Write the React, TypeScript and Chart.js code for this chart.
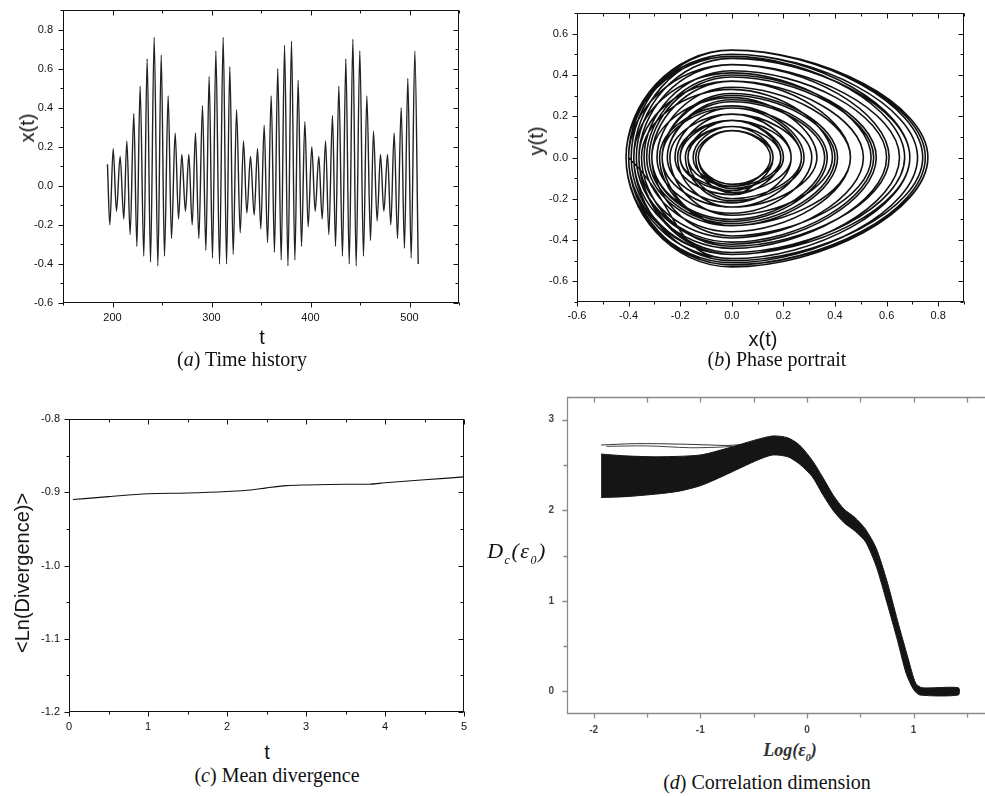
import React, { useEffect, useRef } from 'react';
import { Chart, registerables } from 'chart.js';
Chart.register(...registerables);

// ---------------- Panel (a): time history (extremes of x(t)) ----------------
const timeT = [
  194.9, 197.3, 200.7, 204.0, 207.7, 211.4, 214.5, 217.8, 221.5, 224.6,
  227.9, 231.6, 235.0, 238.4, 242.1, 245.8, 249.2, 252.5, 256.2, 259.6,
  263.3, 266.7, 270.0, 273.7, 277.1, 280.5, 283.8, 287.2, 290.9, 294.3,
  297.6, 301.0, 304.4, 308.1, 311.8, 315.2, 318.5, 321.9, 325.3, 329.0,
  332.3, 335.7, 339.4, 343.1, 346.5, 349.8, 353.2, 356.6, 360.3, 363.6,
  366.9, 370.4, 373.8, 377.2, 380.8, 384.2, 387.5, 390.9, 394.3, 397.6,
  401.3, 404.7, 408.4, 411.8, 415.2, 418.5, 422.2, 425.3, 428.6, 432.3,
  435.7, 439.1, 442.8, 446.1, 449.8, 453.5, 456.9, 460.6, 463.6, 467.3,
  470.7, 474.1, 477.8, 481.1, 484.5, 487.9, 491.6, 494.9, 498.3, 501.7,
  505.4, 508.8,
];
const timeX = [
  0.11, -0.20, 0.19, -0.13, 0.15, -0.17, 0.23, -0.25, 0.37, -0.31,
  0.51, -0.36, 0.65, -0.39, 0.76, -0.41, 0.67, -0.36, 0.46, -0.27,
  0.27, -0.17, 0.16, -0.13, 0.16, -0.20, 0.27, -0.27, 0.41, -0.33,
  0.56, -0.37, 0.69, -0.40, 0.76, -0.40, 0.61, -0.35, 0.39, -0.24,
  0.23, -0.14, 0.15, -0.15, 0.19, -0.22, 0.31, -0.29, 0.46, -0.34,
  0.60, -0.38, 0.72, -0.41, 0.74, -0.38, 0.54, -0.31, 0.33, -0.21,
  0.20, -0.13, 0.15, -0.17, 0.23, -0.25, 0.36, -0.31, 0.51, -0.36,
  0.65, -0.40, 0.75, -0.41, 0.69, -0.36, 0.46, -0.28, 0.28, -0.18,
  0.16, -0.13, 0.16, -0.20, 0.27, -0.27, 0.40, -0.32, 0.55, -0.37,
  0.69, -0.40,
];
const aXTicks = [200, 300, 400, 500];
const aXMinor = [150, 250, 350, 450, 550];
const aYTicks = [-0.6, -0.4, -0.2, 0, 0.2, 0.4, 0.6, 0.8];
const aYMinor = [-0.5, -0.3, -0.1, 0.1, 0.3, 0.5, 0.7, 0.9];

// ---------------- Panel (b): phase portrait ----------------
// y(t) extreme reached between consecutive x(t) extremes (sign = direction)
const phaseV = [
  -0.17, 0.18, -0.14, 0.13, -0.14, 0.18, -0.22, 0.28, -0.31, 0.37,
  -0.39, 0.45, -0.47, 0.52, -0.53, 0.49, -0.46, 0.37, -0.33, 0.24,
  -0.20, 0.15, -0.13, 0.13, -0.16, 0.21, -0.24, 0.31, -0.33, 0.40,
  -0.42, 0.48, -0.49, 0.52, -0.52, 0.45, -0.43, 0.33, -0.28, 0.21,
  -0.17, 0.13, -0.14, 0.15, -0.18, 0.24, -0.27, 0.34, -0.36, 0.42,
  -0.44, 0.50, -0.51, 0.52, -0.50, 0.41, -0.38, 0.29, -0.24, 0.18,
  -0.15, 0.13, -0.14, 0.18, -0.22, 0.27, -0.30, 0.37, -0.39, 0.45,
  -0.47, 0.52, -0.52, 0.50, -0.47, 0.37, -0.33, 0.25, -0.21, 0.15,
  -0.13, 0.13, -0.16, 0.21, -0.24, 0.30, -0.32, 0.39, -0.41, 0.48,
  -0.49,
];
const phaseVStart = -0.12;      // y(t) at the first sample
const phaseVAtX = 0.0;          // x(t) where y(t) reaches its extreme
const bXTicks = [-0.6, -0.4, -0.2, 0, 0.2, 0.4, 0.6, 0.8];
const bXMinor = [-0.5, -0.3, -0.1, 0.1, 0.3, 0.5, 0.7, 0.9];
const bYTicks = [-0.6, -0.4, -0.2, 0, 0.2, 0.4, 0.6];
const bYMinor = [-0.7, -0.5, -0.3, -0.1, 0.1, 0.3, 0.5, 0.7];

// ---------------- Panel (c): mean divergence ----------------
const divT = [0.05, 0.5, 1, 1.5, 2, 2.3, 2.5, 2.75, 3, 3.5, 3.8, 4, 4.5, 5];
const divV = [-0.910, -0.906, -0.902, -0.901, -0.899, -0.897, -0.894, -0.891, -0.890, -0.889, -0.889, -0.887, -0.883, -0.879];
const cXTicks = [0, 1, 2, 3, 4, 5];
const cXMinor = [0.5, 1.5, 2.5, 3.5, 4.5];
const cYTicks = [-1.2, -1.1, -1.0, -0.9, -0.8];
const cYMinor = [-1.15, -1.05, -0.95, -0.85];

// ---------------- Panel (d): correlation dimension band ----------------
const bandUpperX = [-1.93, -1.7, -1.4, -1.0, -0.7, -0.5, -0.32, -0.18, -0.07, 0.05, 0.15, 0.25, 0.35, 0.45, 0.55, 0.65, 0.75, 0.85, 0.95, 1.02, 1.08, 1.42];
const bandUpperY = [2.62, 2.60, 2.59, 2.61, 2.70, 2.77, 2.82, 2.80, 2.72, 2.55, 2.36, 2.16, 2.01, 1.92, 1.79, 1.58, 1.22, 0.78, 0.36, 0.09, 0.04, 0.04];
const bandLowerX = [1.42, 1.06, 1.00, 0.93, 0.85, 0.75, 0.65, 0.55, 0.45, 0.35, 0.25, 0.15, 0.05, -0.07, -0.18, -0.32, -0.45, -0.6, -0.8, -1.0, -1.2, -1.4, -1.7, -1.93];
const bandLowerY = [-0.04, -0.04, 0.02, 0.20, 0.56, 0.98, 1.38, 1.65, 1.77, 1.86, 1.99, 2.17, 2.37, 2.51, 2.59, 2.61, 2.56, 2.48, 2.37, 2.27, 2.21, 2.18, 2.15, 2.14];
const thinAX = [-1.93, -1.6, -1.2, -0.9, -0.75, -0.6];
const thinAY = [2.72, 2.735, 2.73, 2.72, 2.715, 2.725];
const thinBX = [-1.88, -1.5, -1.1, -0.85, -0.7];
const thinBY = [2.705, 2.71, 2.69, 2.695, 2.705];
const dXTicks = [-2, -1, 0, 1];
const dXMinor = [-1.5, -0.5, 0.5, 1.5];
const dYTicks = [0, 1, 2, 3];
const dYMinor = [0.5, 1.5, 2.5];

type Side = 'in' | 'out' | null;
interface FrameOpts {
  color: string; width: number; major: number; minor: number;
  left: Side; right: Side; top: Side; bottom: Side;
  xMajor: number[]; xMinor: number[]; yMajor: number[]; yMinor: number[];
  topAll?: boolean;
}

function makeFramePlugin(o: FrameOpts) {
  return {
    id: 'frameTicks',
    afterDraw(chart: any) {
      const { ctx, chartArea: a, scales } = chart;
      const xs = scales.x, ys = scales.y;
      const L = Math.round(a.left) + 0.5, R = Math.round(a.right) - 0.5;
      const T = Math.round(a.top) + 0.5, B = Math.round(a.bottom) - 0.5;
      ctx.save();
      ctx.strokeStyle = o.color;
      ctx.lineWidth = o.width;
      ctx.lineCap = 'butt';
      ctx.beginPath();
      if (o.left) { ctx.moveTo(L, T - 0.5); ctx.lineTo(L, B + 0.5); }
      if (o.right) { ctx.moveTo(R, T - 0.5); ctx.lineTo(R, B + 0.5); }
      if (o.top) { ctx.moveTo(L - 0.5, T); ctx.lineTo(a.right, T); }
      if (o.bottom) { ctx.moveTo(L - 0.5, B); ctx.lineTo(a.right, B); }
      const xt = (v: number, len: number) => {
        const p = Math.round(xs.getPixelForValue(v)) + 0.5;
        if (o.bottom) { const d = o.bottom === 'out' ? len : -len; ctx.moveTo(p, B); ctx.lineTo(p, B + d); }
        if (o.top) { const l2 = o.topAll ? o.major : len; const d = o.top === 'out' ? -l2 : l2; ctx.moveTo(p, T); ctx.lineTo(p, T + d); }
      };
      const yt = (v: number, len: number) => {
        const p = Math.round(ys.getPixelForValue(v)) + 0.5;
        if (o.left) { const d = o.left === 'out' ? -len : len; ctx.moveTo(L, p); ctx.lineTo(L + d, p); }
        if (o.right) { const d = o.right === 'out' ? len : -len; ctx.moveTo(R, p); ctx.lineTo(R + d, p); }
      };
      o.xMajor.forEach(v => xt(v, o.major));
      o.xMinor.forEach(v => xt(v, o.minor));
      o.yMajor.forEach(v => yt(v, o.major));
      o.yMinor.forEach(v => yt(v, o.minor));
      ctx.stroke();
      ctx.restore();
    },
  };
}

interface PanelCfg {
  w: number; h: number; padTop: number; padRight: number; yWidth: number; xHeight: number;
  xMin: number; xMax: number; yMin: number; yMax: number;
  xTicks: number[]; yTicks: number[]; xFmt: (v: number) => string; yFmt: (v: number) => string;
  xPad: number; yPad: number; font: any; tickColor: string;
  frame: FrameOpts; datasets: any[];
}

function buildConfig(p: PanelCfg): any {
  return {
    type: 'line',
    data: { datasets: p.datasets },
    plugins: [makeFramePlugin(p.frame)],
    options: {
      responsive: false,
      animation: false,
      devicePixelRatio: 1,
      events: [],
      layout: { padding: { top: p.padTop, right: p.padRight, left: 0, bottom: 0 } },
      plugins: { legend: { display: false }, tooltip: { enabled: false } },
      elements: { point: { radius: 0, hitRadius: 0 } },
      scales: {
        x: {
          type: 'linear', min: p.xMin, max: p.xMax,
          grid: { display: false, drawTicks: false }, border: { display: false },
          afterBuildTicks: (s: any) => { s.ticks = p.xTicks.map(v => ({ value: v })); },
          afterFit: (s: any) => { s.height = p.xHeight; s.paddingLeft = 0; s.paddingRight = 0; },
          ticks: { autoSkip: false, maxRotation: 0, padding: p.xPad, font: p.font, color: p.tickColor,
            callback: (v: any) => p.xFmt(Number(v)) },
        },
        y: {
          type: 'linear', min: p.yMin, max: p.yMax,
          grid: { display: false, drawTicks: false }, border: { display: false },
          afterBuildTicks: (s: any) => { s.ticks = p.yTicks.map(v => ({ value: v })); },
          afterFit: (s: any) => { s.width = p.yWidth; s.paddingTop = 0; s.paddingBottom = 0; },
          ticks: { autoSkip: false, padding: p.yPad, font: p.font, color: p.tickColor,
            callback: (v: any) => p.yFmt(Number(v)) },
        },
      },
    },
  };
}

const fmt1 = (v: number) => (Math.abs(v) < 1e-9 ? 0 : v).toFixed(1);
const fmt0 = (v: number) => String(Math.round(v));
const sansFont = { family: '"Liberation Sans", Arial, sans-serif', size: 11 };

function PanelChart({ cfg, left, top }: { cfg: PanelCfg; left: number; top: number }) {
  const ref = useRef<HTMLCanvasElement | null>(null);
  useEffect(() => {
    if (!ref.current) return;
    const chart = new Chart(ref.current, buildConfig(cfg));
    return () => chart.destroy();
  }, []);
  return (
    <canvas ref={ref} width={cfg.w} height={cfg.h}
      style={{ position: 'absolute', left, top, width: cfg.w, height: cfg.h }} />
  );
}

function Label({ x, y, children, size = 20, family = '"Liberation Sans", Arial, sans-serif', rotate = false, style = {} }: any) {
  return (
    <div style={{
      position: 'absolute', left: x, top: y, whiteSpace: 'nowrap', fontSize: size, fontFamily: family,
      lineHeight: 1, color: '#111',
      transform: `translate(-50%, -50%)${rotate ? ' rotate(-90deg)' : ''}`, ...style,
    }}>{children}</div>
  );
}

export default function App() {
  const serif = '"Liberation Serif", "Times New Roman", serif';

  const timePoints = timeT.map((t, i) => ({ x: t, y: timeX[i] }));

  const phasePoints: { x: number; y: number }[] = [{ x: timeX[0], y: phaseVStart }];
  phaseV.forEach((v, i) => {
    phasePoints.push({ x: phaseVAtX, y: v });
    phasePoints.push({ x: timeX[i + 1], y: 0 });
  });

  const divPoints = divT.map((t, i) => ({ x: t, y: divV[i] }));

  const bandPoints = [
    ...bandUpperX.map((x, i) => ({ x, y: bandUpperY[i] })),
    ...bandLowerX.map((x, i) => ({ x, y: bandLowerY[i] })),
  ];
  const thinA = thinAX.map((x, i) => ({ x, y: thinAY[i] }));
  const thinB = thinBX.map((x, i) => ({ x, y: thinBY[i] }));

  const frameStd = { color: '#111', width: 1, major: 5, minor: 3, left: 'out', bottom: 'out', top: 'in', right: 'in' } as const;

  const cfgA: PanelCfg = {
    w: 470, h: 330, padTop: 10, padRight: 11, yWidth: 63, xHeight: 27,
    xMin: 150, xMax: 550, yMin: -0.6, yMax: 0.9, xTicks: aXTicks, yTicks: aYTicks,
    xFmt: fmt0, yFmt: fmt1, xPad: 8, yPad: 10, font: sansFont, tickColor: '#111',
    frame: { ...frameStd, xMajor: aXTicks, xMinor: aXMinor, yMajor: aYTicks, yMinor: aYMinor },
    datasets: [{ data: timePoints, borderColor: '#222', borderWidth: 1.4, cubicInterpolationMode: 'monotone', pointRadius: 0 }],
  };
  const cfgB: PanelCfg = {
    w: 485, h: 330, padTop: 13, padRight: 11, yWidth: 87, xHeight: 28,
    xMin: -0.6, xMax: 0.9, yMin: -0.7, yMax: 0.7, xTicks: bXTicks, yTicks: bYTicks,
    xFmt: fmt1, yFmt: fmt1, xPad: 7, yPad: 9, font: sansFont, tickColor: '#111',
    frame: { ...frameStd, xMajor: bXTicks, xMinor: bXMinor, yMajor: bYTicks, yMinor: bYMinor },
    datasets: [{ data: phasePoints, borderColor: '#111', borderWidth: 1.6, tension: 0.5, pointRadius: 0 }],
  };
  const cfgC: PanelCfg = {
    w: 475, h: 335, padTop: 14, padRight: 11, yWidth: 69, xHeight: 28,
    xMin: 0, xMax: 5, yMin: -1.2, yMax: -0.8, xTicks: cXTicks, yTicks: cYTicks,
    xFmt: fmt0, yFmt: fmt1, xPad: 8, yPad: 9, font: sansFont, tickColor: '#111',
    frame: { ...frameStd, xMajor: cXTicks, xMinor: cXMinor, yMajor: cYTicks, yMinor: cYMinor },
    datasets: [{ data: divPoints, borderColor: '#111', borderWidth: 1.1, cubicInterpolationMode: 'monotone', pointRadius: 0 }],
  };
  const cfgD: PanelCfg = {
    w: 505, h: 350, padTop: 7, padRight: 0, yWidth: 87, xHeight: 26,
    xMin: -2.25, xMax: 1.67, yMin: -0.25, yMax: 3.25, xTicks: dXTicks, yTicks: dYTicks,
    xFmt: fmt0, yFmt: fmt0, xPad: 10, yPad: 13,
    font: { family: '"Liberation Sans", Arial, sans-serif', size: 10, weight: 'bold' }, tickColor: '#444',
    frame: { color: '#8a8a8a', width: 1.3, major: 5, minor: 4, left: 'out', bottom: 'out', top: 'in', right: null, topAll: true,
      xMajor: dXTicks, xMinor: dXMinor, yMajor: dYTicks, yMinor: dYMinor },
    datasets: [
      { data: bandPoints, borderColor: '#151515', backgroundColor: '#151515', borderWidth: 1, fill: 'shape', tension: 0.25, pointRadius: 0 },
      { data: thinA, borderColor: '#333', borderWidth: 1, tension: 0.3, pointRadius: 0 },
      { data: thinB, borderColor: '#444', borderWidth: 1, tension: 0.3, pointRadius: 0 },
    ],
  };

  return (
    <div style={{ position: 'absolute', left: 0, top: 0, width: 985, height: 796, background: '#fff', overflow: 'hidden' }}>
      <PanelChart cfg={cfgA} left={0} top={0} />
      <PanelChart cfg={cfgB} left={490} top={0} />
      <PanelChart cfg={cfgC} left={0} top={405} />
      <PanelChart cfg={cfgD} left={480} top={390} />

      {/* panel (a) */}
      <Label x={27} y={128} rotate>x(t)</Label>
      <Label x={262} y={337}>t</Label>
      <Label x={242} y={359} family={serif}>(<i>a</i>) Time history</Label>

      {/* panel (b) */}
      <Label x={536} y={141} rotate>y(t)</Label>
      <Label x={763} y={339}>x(t)</Label>
      <Label x={777} y={359} family={serif}>(<i>b</i>) Phase portrait</Label>

      {/* panel (c) */}
      <Label x={22} y={573} rotate>&lt;Ln(Divergence)&gt;</Label>
      <Label x={267} y={752}>t</Label>
      <Label x={277} y={775} family={serif}>(<i>c</i>) Mean divergence</Label>

      {/* panel (d) */}
      <Label x={517} y={553} size={22} family={serif} style={{ fontStyle: 'italic', letterSpacing: 1.5 }}>
        D<sub style={{ fontSize: 12 }}>c</sub>(ε<sub style={{ fontSize: 12 }}>0</sub>)
      </Label>
      <Label x={790} y={752} size={18} family={serif} style={{ fontStyle: 'italic', fontWeight: 'bold', color: '#333' }}>
        Log(ε<sub style={{ fontSize: 10 }}>0</sub>)
      </Label>
      <Label x={767} y={782} family={serif}>(<i>d</i>) Correlation dimension</Label>
    </div>
  );
}
